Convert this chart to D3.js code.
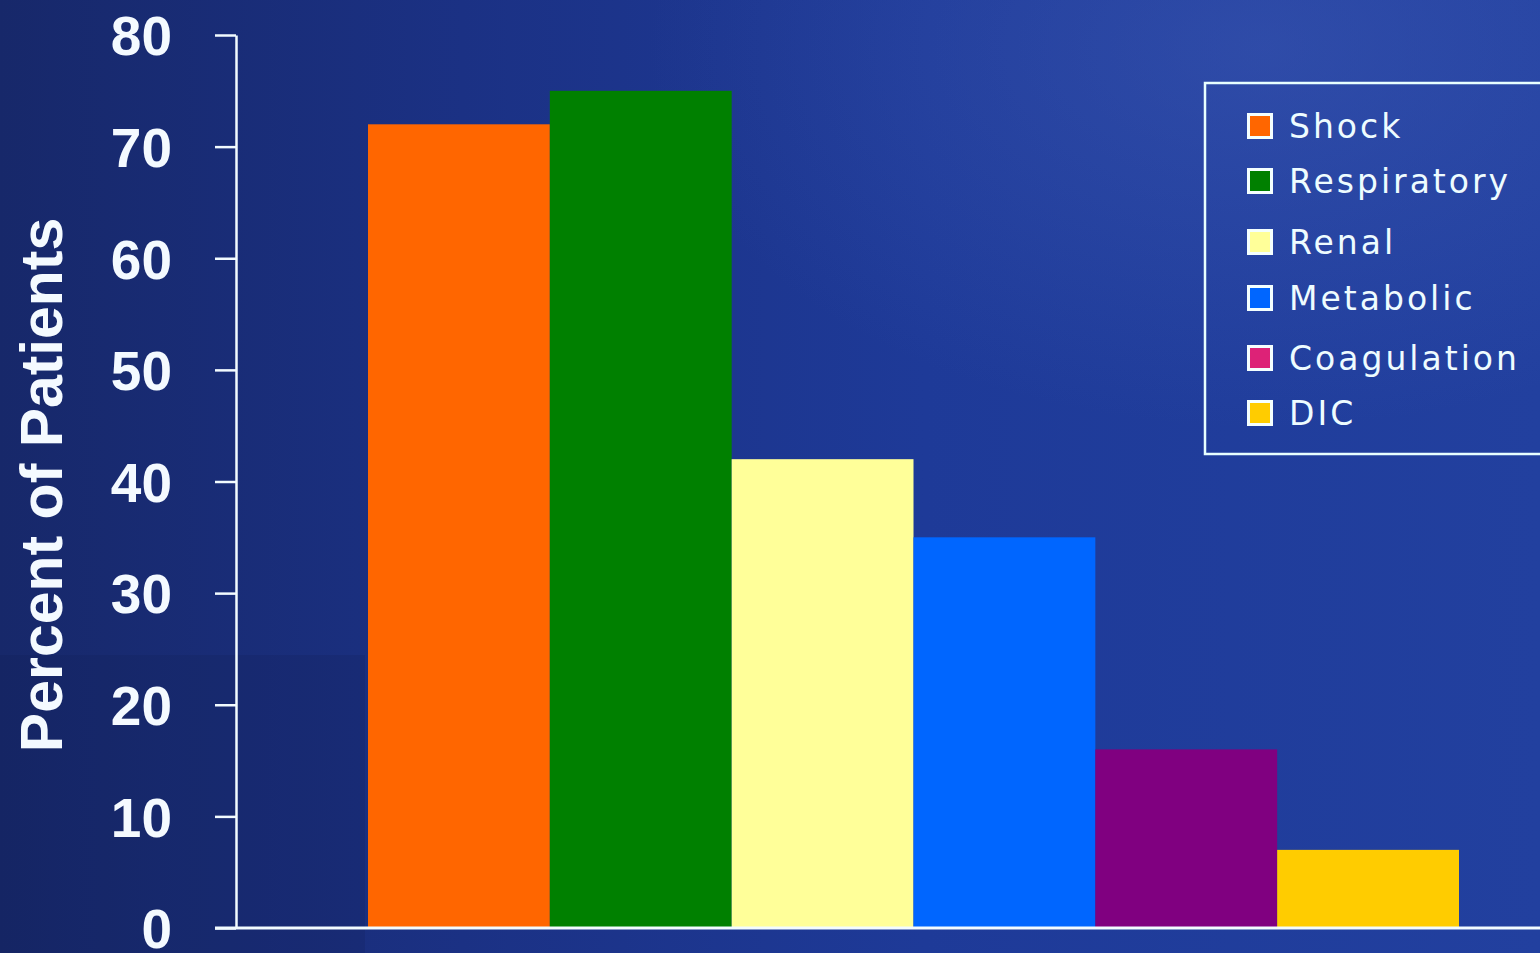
<!DOCTYPE html>
<html>
<head>
<meta charset="utf-8">
<script src="https://cdn.jsdelivr.net/npm/d3@7"></script>
<style>
html,body{margin:0;padding:0;background:#1a2b70;overflow:hidden;}
svg{display:block;}
</style>
</head>
<body>
<svg id="chart" width="1540" height="953"></svg>
<script>
const categories = ["Shock","Respiratory","Renal","Metabolic","Coagulation","DIC"];
const values = [72, 75, 42, 35, 16, 7];
const barColors = ["#ff6600","#008000","#ffff99","#0066ff","#800080","#ffcc00"];
const legendColors = ["#ff6600","#008000","#ffff99","#0066ff","#dd2277","#ffcc00"];
const yTicks = [0,10,20,30,40,50,60,70,80];
const yTitle = "Percent of Patients";

const svg = d3.select("#chart");
const W = 1540, H = 953;
const defs = svg.append("defs");
const lg = defs.append("linearGradient").attr("id","bg").attr("x1","0").attr("x2","1").attr("y1","0").attr("y2","0");
lg.append("stop").attr("offset","0").attr("stop-color","#17286a");
lg.append("stop").attr("offset","0.3").attr("stop-color","#1b3184");
lg.append("stop").attr("offset","0.6").attr("stop-color","#1e3a98");
lg.append("stop").attr("offset","1").attr("stop-color","#22409f");
svg.append("rect").attr("width",W).attr("height",H).attr("fill","url(#bg)");
const rg = defs.append("radialGradient").attr("id","glow").attr("cx","0.82").attr("cy","0.05").attr("r","0.4");
rg.append("stop").attr("offset","0").attr("stop-color","#4a66c0").attr("stop-opacity",0.35);
rg.append("stop").attr("offset","1").attr("stop-color","#4a66c0").attr("stop-opacity",0);
svg.append("rect").attr("width",W).attr("height",H).attr("fill","url(#glow)");
svg.append("rect").attr("x",0).attr("y",655).attr("width",365).attr("height",298)
  .attr("fill","#101c50").attr("opacity",0.18);

const y = d3.scaleLinear().domain([0,80]).range([928,35]);
const x = d3.scaleBand().domain(categories).range([368,1459]).padding(0);

// bars
svg.append("g").selectAll("rect").data(categories).join("rect")
  .attr("x", d => x(d))
  .attr("y", (d,i) => y(values[i]))
  .attr("width", x.bandwidth())
  .attr("height", (d,i) => y(0) - y(values[i]))
  .attr("fill", (d,i) => barColors[i]);

// y axis
const yAxis = d3.axisLeft(y).tickValues(yTicks).tickSize(21).tickPadding(43).tickSizeOuter(0);
const ga = svg.append("g").attr("transform","translate(236,0)").call(yAxis);
ga.select(".domain").attr("stroke","#f2fbff").attr("stroke-width",2.5);
ga.selectAll(".tick line").attr("stroke","#f2fbff").attr("stroke-width",2.5);
ga.selectAll(".tick text")
  .attr("fill","#f4faff")
  .attr("font-family","'Liberation Sans', Arial, sans-serif")
  .attr("font-weight","bold")
  .attr("font-size",55)
  .attr("dy","0.36em");

// baseline
svg.append("line").attr("x1",215).attr("x2",W).attr("y1",y(0)).attr("y2",y(0))
  .attr("stroke","#f2fbff").attr("stroke-width",3);

// y title
svg.append("text")
  .attr("transform","translate(62,485) rotate(-90)")
  .attr("text-anchor","middle")
  .attr("fill","#f4faff")
  .attr("font-family","'Liberation Sans', Arial, sans-serif")
  .attr("font-weight","bold")
  .attr("font-size",59)
  .text(yTitle);

// legend
const leg = svg.append("g");
leg.append("rect").attr("x",1205).attr("y",83).attr("width",345).attr("height",371)
  .attr("fill","none").attr("stroke","#e8ffff").attr("stroke-width",2.5);
const rowY = [126,181,242,298,358,413];
const items = leg.selectAll("g.item").data(categories).join("g").attr("class","item")
  .attr("transform",(d,i)=>`translate(1247,${rowY[i]})`);
items.append("rect").attr("x",1.5).attr("y",-11.5).attr("width",23).attr("height",23)
  .attr("fill",(d,i)=>legendColors[i]).attr("stroke","#f4ffff").attr("stroke-width",3);
items.append("text").attr("x",42).attr("y",0).attr("dy","0.36em")
  .attr("fill","#eefcff")
  .attr("font-family","'DejaVu Sans', Verdana, sans-serif")
  .attr("font-size",33)
  .attr("letter-spacing",3)
  .text(d=>d);
</script>
</body>
</html>
